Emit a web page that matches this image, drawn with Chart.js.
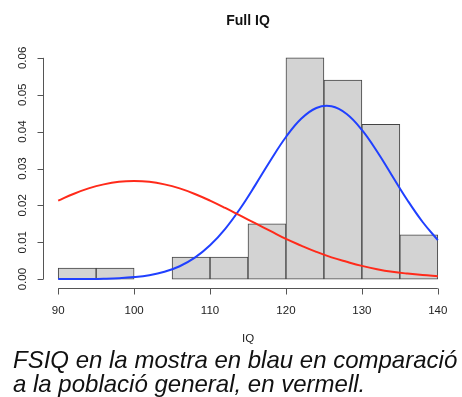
<!DOCTYPE html>
<html lang="ca">
<head>
<meta charset="utf-8">
<title>Full IQ</title>
<script src="https://cdn.jsdelivr.net/npm/chart.js@4.4.1/dist/chart.umd.min.js"></script>
<style>
body { margin: 0; background: #fff; }
#wrap { position: relative; width: 462px; height: 397px; }
#caption {
	position: absolute; left: 13px; top: 348px;
	font: italic 24px "Liberation Sans", Arial, sans-serif;
	line-height: 24px; color: #111; white-space: nowrap;
}
</style>
</head>
<body>
<div id="wrap">
<canvas id="chart" width="462" height="397"></canvas>
<div id="caption">FSIQ en la mostra en blau en comparació<br>a la població general, en vermell.</div>
</div>
<script>
// histogram (density), bin centres 92.5 .. 137.5, width 5
const binCentres = [92.5, 97.5, 102.5, 107.5, 112.5, 117.5, 122.5, 127.5, 132.5, 137.5];
const binDensity = [0.003, 0.003, 0, 0.006, 0.006, 0.015, 0.060, 0.054, 0.042, 0.012];

// curves
const curveX = [90, 92, 94, 96, 98, 100, 102, 104, 106, 108, 110, 112, 114,
	116, 118, 120, 122, 124, 126, 128, 130, 132, 134, 136, 138, 140];
const generalPop = [0.0213, 0.0231, 0.0246, 0.0257, 0.0264, 0.0266, 0.0264, 0.0257, 0.0246, 0.0231,
	0.0213, 0.0193, 0.0172, 0.0151, 0.0130, 0.0109, 0.0091, 0.0074, 0.0059, 0.0047,
	0.0036, 0.0027, 0.0020, 0.0015, 0.0011, 0.0008];
const sample = [0.00001, 0.00002, 0.00005, 0.00012, 0.00026, 0.00055, 0.00107, 0.00199, 0.0035, 0.00583,
	0.00917, 0.01365, 0.01923, 0.02563, 0.03231, 0.03854, 0.04348, 0.04641, 0.04686, 0.04477,
	0.04045, 0.03459, 0.02797, 0.0214, 0.01549, 0.0106];

const xTicks = [90, 100, 110, 120, 130, 140];
const yTicks = [0, 0.01, 0.02, 0.03, 0.04, 0.05, 0.06];
const yTickLabels = ['0.00', '0.01', '0.02', '0.03', '0.04', '0.05', '0.06'];

const FONT = '"Liberation Sans", Arial, sans-serif';

// R style axes, title and labels
const rAxes = {
	id: 'rAxes',
	afterDraw(chart) {
		const ctx = chart.ctx;
		const x = chart.scales.x, y = chart.scales.y, a = chart.chartArea;
		ctx.save();
		ctx.strokeStyle = '#555';
		ctx.lineWidth = 1;
		ctx.fillStyle = '#222';
		// x axis
		const ax = Math.round(a.bottom) + 0.5;
		ctx.beginPath();
		ctx.moveTo(x.getPixelForValue(xTicks[0]), ax);
		ctx.lineTo(x.getPixelForValue(xTicks[xTicks.length - 1]), ax);
		xTicks.forEach(v => {
			const px = Math.round(x.getPixelForValue(v)) + 0.5;
			ctx.moveTo(px, ax);
			ctx.lineTo(px, ax + 6);
		});
		ctx.stroke();
		ctx.font = '11.5px ' + FONT;
		ctx.textAlign = 'center';
		ctx.textBaseline = 'middle';
		xTicks.forEach(v => ctx.fillText(String(v), x.getPixelForValue(v), ax + 22));
		ctx.fillText('IQ', (a.left + a.right) / 2, ax + 50);
		// y axis
		const ay = Math.round(a.left) + 0.5;
		ctx.beginPath();
		ctx.moveTo(ay, y.getPixelForValue(yTicks[0]));
		ctx.lineTo(ay, y.getPixelForValue(yTicks[yTicks.length - 1]));
		yTicks.forEach(v => {
			const py = Math.round(y.getPixelForValue(v)) + 0.5;
			ctx.moveTo(ay, py);
			ctx.lineTo(ay - 6, py);
		});
		ctx.stroke();
		yTicks.forEach((v, i) => {
			ctx.save();
			ctx.translate(ay - 21, y.getPixelForValue(v));
			ctx.rotate(-Math.PI / 2);
			ctx.fillText(yTickLabels[i], 0, 0);
			ctx.restore();
		});
		// title
		ctx.font = 'bold 14px ' + FONT;
		ctx.fillStyle = '#111';
		ctx.fillText('Full IQ', (a.left + a.right) / 2, 21);
		ctx.restore();
	}
};

new Chart(document.getElementById('chart'), {
	type: 'bar',
	data: {
		datasets: [{
			type: 'line',
			data: curveX.map((v, i) => ({x: v, y: generalPop[i]})),
			borderColor: '#ff2a1a',
			borderWidth: 2,
			pointRadius: 0,
			tension: 0.4,
			order: 0
		}, {
			type: 'line',
			data: curveX.map((v, i) => ({x: v, y: sample[i]})),
			borderColor: '#2040ff',
			borderWidth: 2,
			pointRadius: 0,
			tension: 0.4,
			order: 1
		}, {
			type: 'bar',
			data: binCentres.map((v, i) => ({x: v, y: binDensity[i]})),
			backgroundColor: '#d3d3d3',
			borderColor: '#444',
			borderWidth: 1,
			borderSkipped: false,
			barPercentage: 1,
			categoryPercentage: 1,
			order: 2
		}]
	},
	options: {
		responsive: false,
		animation: false,
		layout: {padding: {left: 43, right: 9, top: 49, bottom: 109}},
		plugins: {legend: {display: false}, tooltip: {enabled: false}},
		scales: {
			x: {
				type: 'linear', min: 88, max: 142, offset: false, display: false,
				afterBuildTicks: s => { s.ticks = xTicks.map(v => ({value: v})); }
			},
			y: {
				type: 'linear', min: -0.0024, max: 0.0624, display: false,
				afterBuildTicks: s => { s.ticks = yTicks.map(v => ({value: v})); }
			}
		}
	},
	plugins: [rAxes]
});
</script>
</body>
</html>
